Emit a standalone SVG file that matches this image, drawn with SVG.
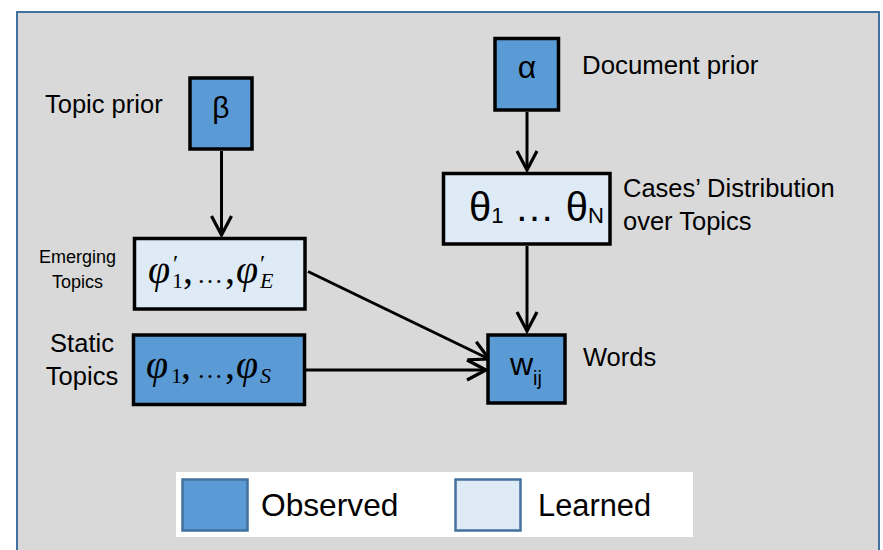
<svg xmlns="http://www.w3.org/2000/svg" width="883" height="550" viewBox="0 0 883 550">
<defs>
<style>
.box{stroke:#000;stroke-width:3.5}
.obs{fill:#5B9BD5}
.lrn{fill:#DEEBF7}
.leg{stroke:#41719C;stroke-width:2.5}
.t{font-family:"Liberation Sans",Arial,sans-serif;fill:#000}
.m{font-family:"Liberation Serif","Times New Roman",serif;font-style:italic;fill:#000}
.up{font-style:normal}
.edge{stroke:#000;stroke-width:3;fill:none}
</style>
<marker id="arr" markerUnits="userSpaceOnUse" viewBox="0 0 24 24" markerWidth="24" markerHeight="24" refX="21" refY="12" orient="auto">
<path d="M2,2 L21,12 L2,22" fill="none" stroke="#000" stroke-width="3.2"/>
</marker>
</defs>
<rect x="0" y="0" width="883" height="550" fill="#fff"/>
<rect x="17" y="12" width="862" height="545" fill="#D9D9D9" stroke="#41719C" stroke-width="2"/>

<g id="connectors">
<line class="edge" x1="221.5" y1="151" x2="221.5" y2="235" marker-end="url(#arr)"/>
<line class="edge" x1="527" y1="112" x2="527" y2="170" marker-end="url(#arr)"/>
<line class="edge" x1="527" y1="246" x2="527" y2="331" marker-end="url(#arr)"/>
<line class="edge" x1="308" y1="271.5" x2="489" y2="359" marker-end="url(#arr)"/>
<line class="edge" x1="306" y1="370" x2="486" y2="370" marker-end="url(#arr)"/>
</g>

<g id="beta">
<rect class="box obs" x="190" y="78" width="62" height="71"/>
<text class="t" x="221" y="118" font-size="30" text-anchor="middle">β</text>
<text class="t" x="45" y="113" font-size="25.5">Topic prior</text>
</g>

<g id="alpha">
<rect class="box obs" x="495" y="38.5" width="63.5" height="71.5"/>
<text class="t" x="527" y="78" font-size="32" text-anchor="middle">α</text>
<text class="t" x="582" y="74" font-size="25.8">Document prior</text>
</g>

<g id="theta">
<rect class="box lrn" x="443.5" y="173.5" width="166.5" height="70.5"/>
<text class="t" x="469" y="221" font-size="40">θ<tspan font-size="22" dy="2">1</tspan><tspan dy="-2"> … θ</tspan><tspan font-size="22" dy="2">N</tspan></text>
<text class="t" x="623" y="197" font-size="25.5">Cases’ Distribution</text>
<text class="t" x="623" y="230" font-size="25.5">over Topics</text>
</g>

<g id="emerging">
<rect class="box lrn" x="134.5" y="238.5" width="170.5" height="70.5"/>
<text class="m" font-size="40"><tspan x="148" y="283">φ</tspan><tspan class="up" x="173" y="271" font-size="24">′</tspan><tspan class="up" x="172" y="288" font-size="22">1</tspan><tspan class="up" x="183" y="283">,</tspan><tspan class="up" x="197" y="283" font-size="26">…</tspan><tspan class="up" x="225" y="283">,</tspan><tspan x="236" y="283">φ</tspan><tspan class="up" x="260" y="271" font-size="24">′</tspan><tspan x="260" y="288" font-size="22">E</tspan></text>
<text class="t" x="77.5" y="263" font-size="18" text-anchor="middle">Emerging</text>
<text class="t" x="77.5" y="288" font-size="18" text-anchor="middle">Topics</text>
</g>

<g id="static">
<rect class="box obs" x="133.5" y="335" width="171" height="69.5"/>
<text class="m" font-size="40"><tspan x="146" y="378">φ</tspan><tspan class="up" x="171" y="383" font-size="22">1</tspan><tspan class="up" x="181" y="378">,</tspan><tspan class="up" x="197" y="378" font-size="26">…</tspan><tspan class="up" x="225" y="378">,</tspan><tspan x="236" y="378">φ</tspan><tspan x="260" y="383" font-size="22">S</tspan></text>
<text class="t" x="82" y="352" font-size="25.5" text-anchor="middle">Static</text>
<text class="t" x="82" y="385" font-size="25.5" text-anchor="middle">Topics</text>
</g>

<g id="words">
<rect class="box obs" x="488" y="335" width="77" height="68"/>
<text class="t" x="510" y="375" font-size="32">w<tspan font-size="20" dy="10">ij</tspan></text>
<text class="t" x="583" y="366" font-size="25.5">Words</text>
</g>

<g id="legend">
<rect x="176" y="472" width="517" height="65" fill="#fff"/>
<rect class="leg obs" x="182.5" y="479.5" width="65" height="51"/>
<text class="t" x="261" y="516" font-size="31.7">Observed</text>
<rect class="leg lrn" x="455.5" y="479.5" width="65" height="51"/>
<text class="t" x="538" y="516" font-size="30.8">Learned</text>
</g>
</svg>
